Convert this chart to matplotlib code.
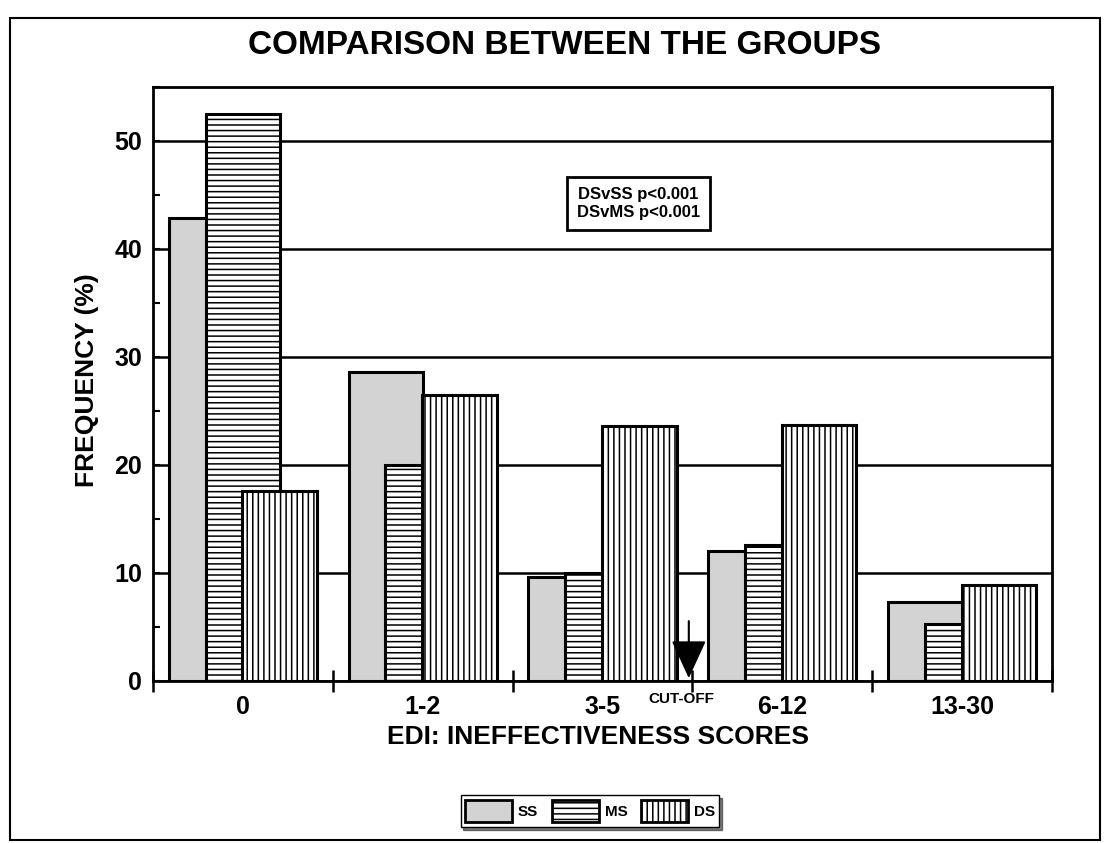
import numpy as np
import matplotlib.pyplot as plt
from matplotlib.patches import Rectangle, Patch
from matplotlib.ticker import MultipleLocator, FixedLocator

plt.rcParams['font.family'] = ['Liberation Sans', 'DejaVu Sans']
plt.rcParams['font.weight'] = 'bold'
plt.rcParams['hatch.linewidth'] = 1.1

# score categories and group frequencies (%)
categories = ['0', '1-2', '3-5', '6-12', '13-30']
ss = [42.9, 28.6, 9.6, 12.0, 7.3]
ms = [52.5, 20.0, 10.0, 12.6, 5.3]
ds = [17.6, 26.5, 23.6, 23.7, 8.9]
groups = ['SS', 'MS', 'DS']

fig = plt.figure(figsize=(11.06, 8.43), dpi=100)
ax = fig.add_axes([153 / 1106, 1 - 681 / 843, 899 / 1106, 594 / 843])

x = np.arange(len(categories))
w = 0.415
off = 0.205
styles = [dict(facecolor='#d3d3d3', hatch=None),
          dict(facecolor='white', hatch='---'),
          dict(facecolor='white', hatch='|||')]
for i, (vals, st) in enumerate(zip([ss, ms, ds], styles)):
    ax.bar(x + (i - 1) * off, vals, width=w, edgecolor='black', linewidth=2.2,
           zorder=3 + i, **st)

ax.set_xlim(-0.5, 4.5)
ax.set_ylim(0, 55)
ax.yaxis.set_major_locator(FixedLocator([0, 10, 20, 30, 40, 50]))
ax.yaxis.set_minor_locator(MultipleLocator(5))
ax.grid(axis='y', which='major', color='black', linewidth=1.8, zorder=1)
ax.set_axisbelow(True)

ax.xaxis.set_major_locator(FixedLocator(np.arange(-0.5, 5, 1)))
ax.xaxis.set_major_formatter(plt.NullFormatter())
ax.xaxis.set_minor_locator(FixedLocator(x))
ax.set_xticklabels(categories, minor=True)
ax.tick_params(axis='x', which='major', direction='inout', length=16, width=1.8)
ax.tick_params(axis='x', which='minor', length=0, pad=10, labelsize=18)
ax.tick_params(axis='y', which='both', direction='in', length=5, width=1.5,
               labelsize=18, pad=8)
for sp in ax.spines.values():
    sp.set_linewidth(2)

# significance box
ax.text(2.2, 44.2, 'DSvSS p<0.001\nDSvMS p<0.001', ha='center', va='center',
        fontsize=12, linespacing=1.3, zorder=10,
        bbox=dict(boxstyle='square,pad=0.6', facecolor='white', edgecolor='black',
                  linewidth=2))

# cut-off arrow
ax.annotate('', xy=(2.48, 0), xytext=(2.48, 5.8),
            arrowprops=dict(arrowstyle='-|>,head_length=1.2,head_width=0.55',
                            color='black', lw=1.5, mutation_scale=20),
            zorder=10)
ax.text(2.44, -1.7, 'CUT-OFF', ha='center', va='center', fontsize=11,
        clip_on=False)

fig.text(565 / 1106, 1 - 45 / 843, 'COMPARISON BETWEEN THE GROUPS', ha='center',
         va='center', fontsize=24)
fig.text(598 / 1106, 1 - 737 / 843, 'EDI: INEFFECTIVENESS SCORES', ha='center',
         va='center', fontsize=19)
fig.text(87 / 1106, 1 - 380 / 843, 'FREQUENCY (%)', ha='center', va='center',
         rotation=90, fontsize=19)

handles = [Patch(edgecolor='black', linewidth=2, **st) for st in styles]
fig.legend(handles, groups, loc='center', bbox_to_anchor=(590 / 1106, 1 - 811 / 843),
           ncol=3, fontsize=11, frameon=True, fancybox=False, edgecolor='black',
           handlelength=3.1, handleheight=1.9, handletextpad=0.35, columnspacing=0.9,
           borderpad=0.3, shadow={'color': 'black'})

fig.add_artist(Rectangle((10 / 1106, 3 / 843), 1090 / 1106, 822 / 843,
                         transform=fig.transFigure, fill=False,
                         edgecolor='black', linewidth=1.5))

fig.savefig('out.png', dpi=100)
